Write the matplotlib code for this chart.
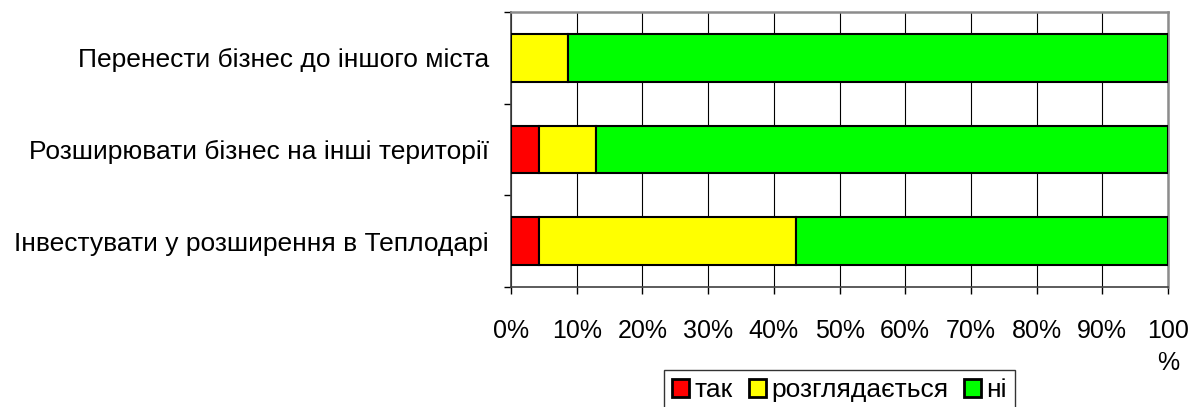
import matplotlib
matplotlib.use('Agg')
import matplotlib.pyplot as plt
import numpy as np

plt.rcParams['font.family'] = ['Liberation Sans', 'DejaVu Sans']

categories = ['Інвестувати у розширення в Теплодарі',
              'Розширювати бізнес на інші території',
              'Перенести бізнес до іншого міста']
tak = [4.3, 4.3, 0.0]
rozglyadaetsya = [39.1, 8.7, 8.7]
ni = [56.6, 87.0, 91.3]
series_names = ['так', 'розглядається', 'ні']
colors = ['#ff0000', '#ffff00', '#00ff00']
xtick_labels = ['0%', '10%', '20%', '30%', '40%', '50%', '60%', '70%', '80%', '90%', '100\n%']

fig = plt.figure(figsize=(11.96, 4.07), dpi=100)
ax = fig.add_axes([0.4273, 0.2948, 0.5493, 0.6757])

y = np.arange(len(categories))
left = np.zeros(len(categories))
for vals, name, c in zip([tak, rozglyadaetsya, ni], series_names, colors):
    ax.barh(y, vals, left=left, height=0.52, color=c, edgecolor='black',
            linewidth=1.5, label=name, zorder=3)
    left += np.array(vals)

ax.set_xlim(0, 100)
ax.set_ylim(-0.5, len(categories) - 0.5)
ax.set_xticks(np.arange(0, 101, 10))
ax.set_xticklabels(xtick_labels, fontsize=18, linespacing=1.4)
ax.set_yticks(y)
ax.set_yticklabels(categories, fontsize=19)
ax.set_yticks(np.arange(-0.5, len(categories), 1), minor=True)
ax.tick_params(axis='y', which='major', length=0, pad=16)
ax.tick_params(axis='y', which='minor', length=5, width=1, direction='out')
ax.tick_params(axis='x', length=5, width=1, direction='out', pad=18)
ax.xaxis.grid(True, color='black', linewidth=0.8, zorder=0)
ax.set_axisbelow(True)
for s in ['top', 'right']:
    ax.spines[s].set_color('#8c8c8c')
    ax.spines[s].set_linewidth(1.8)
for s in ['left', 'bottom']:
    ax.spines[s].set_color('#404040')
    ax.spines[s].set_linewidth(1.2)

leg = ax.legend(loc='upper center', bbox_to_anchor=(0.5, -0.302), ncol=3,
                fontsize=19, frameon=True, fancybox=False, edgecolor='black',
                handlelength=0.65, handleheight=0.65, handletextpad=0.2,
                columnspacing=0.6, borderpad=0.3, borderaxespad=0)
leg.get_frame().set_linewidth(1.0)
for h in leg.legend_handles:
    h.set_linewidth(2.0)

fig.savefig('out.png', dpi=100)
